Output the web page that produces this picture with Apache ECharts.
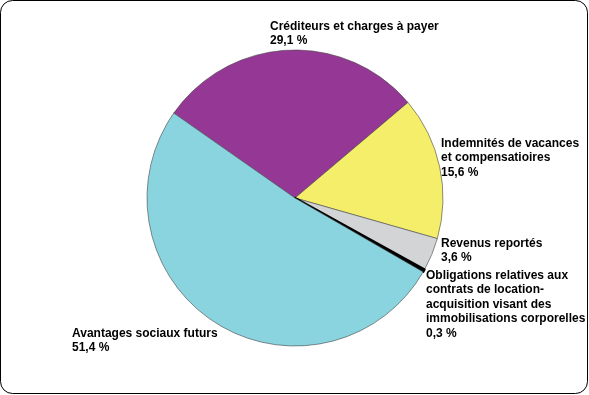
<!DOCTYPE html>
<html><head><meta charset="utf-8">
<script src="https://cdn.jsdelivr.net/npm/echarts@6/dist/echarts.min.js"></script>
<style>html,body{margin:0;padding:0;background:#fff}#c{width:589px;height:395px}</style>
</head><body><div id="c"></div>
<script>
const categories = [
  "Créditeurs et charges à payer",
  "Indemnités de vacances\net compensatioires",
  "Revenus reportés",
  "Obligations relatives aux\ncontrats de location-\nacquisition visant des\nimmobilisations corporelles",
  "Avantages sociaux futurs"
];
const values = [29.1, 15.6, 3.6, 0.3, 51.4];
const valueLabels = ["29,1 %", "15,6 %", "3,6 %", "0,3 %", "51,4 %"];
const colors = ["#953795", "#F5EE6A", "#D3D4D6", "#000000", "#8AD4E0"];
const labelSpots = [[270, 19], [441, 136], [441, 236], [426, 268], [72, 326]];

const chart = echarts.init(document.getElementById('c'), null, {renderer: 'canvas'});
chart.setOption({
  animation: false,
  backgroundColor: '#fff',
  graphic: [{
    type: 'rect', shape: {x: 0.5, y: 0.5, width: 587, height: 393, r: 12},
    style: {fill: 'none', stroke: '#000', lineWidth: 1}, z: 10
  }],
  series: [{
    type: 'pie',
    center: [295, 198],
    radius: 148,
    startAngle: 145,
    clockwise: true,
    avoidLabelOverlap: false,
    itemStyle: {borderColor: '#444', borderWidth: 0.6},
    label: {
      show: true,
      position: 'outside',
      formatter: p => categories[p.dataIndex] + '\n' + valueLabels[p.dataIndex],
      fontFamily: 'Liberation Sans, Arial, sans-serif',
      fontWeight: 'bold',
      fontSize: 12,
      lineHeight: 14.5,
      color: '#000',
      align: 'left'
    },
    labelLine: {show: false},
    labelLayout: p => ({
      x: labelSpots[p.dataIndex][0],
      y: labelSpots[p.dataIndex][1],
      align: 'left',
      verticalAlign: 'top'
    }),
    data: values.map((v, i) => ({
      name: categories[i], value: v,
      itemStyle: i === 3 ? {color: colors[i], borderColor: '#000', borderWidth: 2.2} : {color: colors[i]}
    }))
  }]
});
</script></body></html>
